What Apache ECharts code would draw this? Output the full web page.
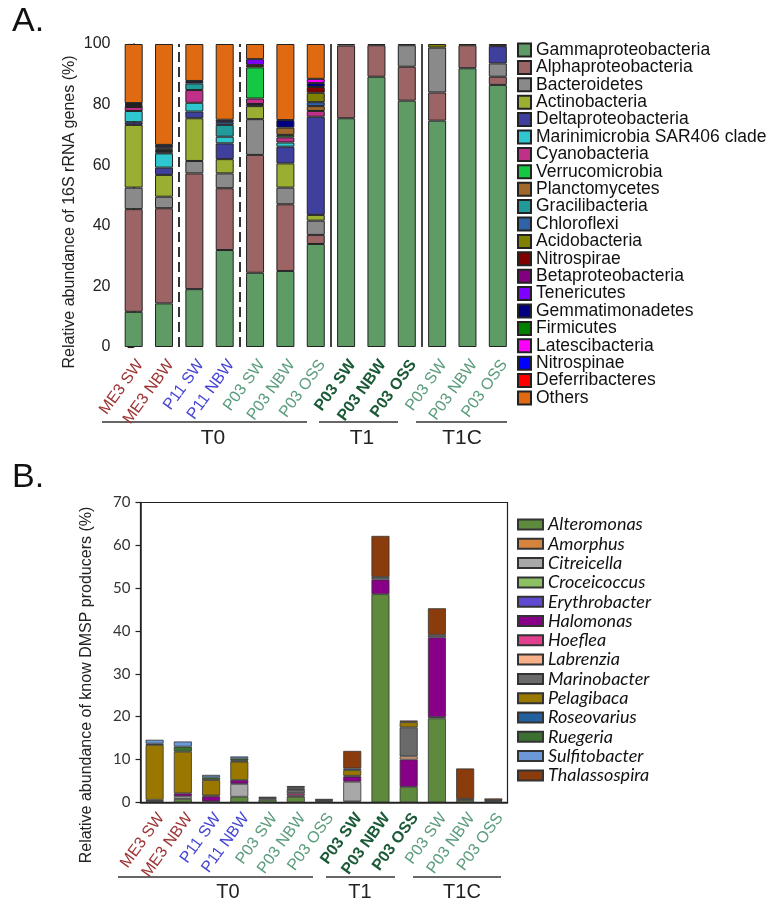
<!DOCTYPE html>
<html><head><meta charset="utf-8">
<script src="https://cdn.jsdelivr.net/npm/echarts@6/dist/echarts.min.js"></script>
<style>html,body{margin:0;padding:0;background:#fff}#c{width:776px;height:911px}</style>
</head><body><div id="c"></div>
<script>
// ---------- categories ----------
const categories = ['ME3 SW','ME3 NBW','P11 SW','P11 NBW','P03 SW','P03 NBW','P03 OSS','P03 SW','P03 NBW','P03 OSS','P03 SW','P03 NBW','P03 OSS'];
const labelGroups = ['me','me','p11','p11','p03','p03','p03','t1','t1','t1','p03','p03','p03'];
const timeGroups = ['T0','T1','T1C'];
const topTicks = [0,20,40,60,80,100];
const bottomTicks = [0,10,20,30,40,50,60,70];

// ---------- A: phyla (% of 16S rRNA genes) ----------
const topTaxa = ['Gammaproteobacteria','Alphaproteobacteria','Bacteroidetes','Actinobacteria','Deltaproteobacteria','Marinimicrobia SAR406 clade','Cyanobacteria','Verrucomicrobia','Planctomycetes','Gracilibacteria','Chloroflexi','Acidobacteria','Nitrospirae','Betaproteobacteria','Tenericutes','Gemmatimonadetes','Firmicutes','Latescibacteria','Nitrospinae','Deferribacteres','Others'];
const gamma      = [11.6,14.4,19.1,32.0,24.5,25.1,34.0,75.5,89.2,81.3,74.7,92.0,86.5];
const alpha      = [33.9,31.4,38.2,20.4,38.9,22.0,3.0,24.0,10.4,11.2,9.3,7.6,2.7];
const bacteroid  = [7.1,3.8,4.1,4.9,11.8,5.5,4.7,0,0,7.1,14.8,0,4.4];
const actino     = [20.7,7.2,14.1,4.7,4.3,8.0,1.9,0,0,0,0,0,0];
const delta      = [0.9,2.4,2.2,5.2,0.7,5.5,32.4,0,0,0,0,0,5.7];
const marini     = [3.7,4.7,2.9,2.2,0,1.4,0,0,0,0,0,0,0];
const cyano      = [1.3,0.3,4.2,0,1.8,1.7,1.9,0,0,0,0,0,0];
const verruco    = [0,0,0,0,10.3,0.8,0,0,0,0,0,0,0];
const plancto    = [0,0,0,0,0,2.4,1.6,0,0,0,0,0,0];
const gracili    = [0.2,0.5,2.2,3.9,0,0,0,0,0,0,0,0,0];
const chloroflexi= [0.2,0.4,0,0.9,0,0,1.3,0,0,0,0,0,0];
const acido      = [0,0,0,0,0,0,3.1,0,0,0,1.2,0,0];
const nitrospirae= [0.3,0.4,0,0,0.8,0,1.9,0,0,0,0,0,0];
const beta       = [0.3,0.4,0,0,0,0,0,0,0,0,0,0,0];
const tener      = [0,0,0,0,1.9,0,0,0,0,0,0,0,0];
const gemma      = [0.3,0.8,0.8,0.8,0,2.5,1.3,0,0,0,0,0,0];
const firmicutes = [0,0,0,0,0,0,0,0,0,0,0,0,0];
const latesci    = [0,0,0,0,0,0,1.4,0,0,0,0,0,0];
const nitrospinae= [0,0,0,0,0,0,0,0,0,0,0,0,0];
const deferri    = [0,0,0,0,0,0,0,0,0,0,0,0,0];
const others     = [19.5,33.3,12.2,25.0,5.0,25.1,11.5,0.5,0.4,0.4,0,0.4,0.7];
const topValues = [gamma,alpha,bacteroid,actino,delta,marini,cyano,verruco,plancto,gracili,chloroflexi,acido,nitrospirae,beta,tener,gemma,firmicutes,latesci,nitrospinae,deferri,others];
const topColors = ['#5f9b65','#9c6464','#8a8a8a','#9aae32','#3f3f9d','#2ec6cf','#c0308a','#14c844','#a0682a','#209a9a','#2f62a8','#7f7f00','#800000','#800080','#8000ff','#000080','#008000','#ff00ff','#0000ff','#ff0000','#df6a12'];

// ---------- B: DMSP producers (%) ----------
const genera = ['Alteromonas','Amorphus','Citreicella','Croceicoccus','Erythrobacter','Halomonas','Hoeflea','Labrenzia','Marinobacter','Pelagibaca','Roseovarius','Ruegeria','Sulfitobacter','Thalassospira'];
const alteromonas  = [0,0.8,0.2,1.3,0.6,1.3,0.2,0,48.6,3.6,19.6,0.5,0.2];
const amorphus     = [0,0,0,0,0,0,0,0.2,0,0,0,0,0];
const citreicella  = [0.3,0.6,0,3.0,0,0,0,4.6,0,0,0.3,0,0];
const croceicoccus = [0,0,0,0,0,0,0,0,0,0,0,0,0];
const erythrobacter= [0,0,0,0,0,0,0,0,0,0,0,0,0];
const halomonas    = [0,0.7,1.2,0.9,0,0.3,0,1.2,3.4,6.4,18.6,0,0];
const hoeflea      = [0,0,0,0,0,0.5,0,0,0,0,0,0,0];
const labrenzia    = [0,0,0,0,0,0,0,0,0,0.7,0,0,0];
const marinobacter = [0.3,0,0.2,0,0.4,0.8,0.3,0.2,0.6,6.8,0.6,0.3,0.3];
const pelagibaca   = [12.8,9.7,3.6,4.3,0,0.3,0,1.3,0,1.2,0,0,0];
const roseovarius  = [0.3,0,0,0.2,0.3,0.3,0,0.4,0,0,0,0,0];
const ruegeria     = [0,1.2,0.6,0.5,0,0,0,0,0,0,0,0,0];
const sulfitobacter= [0.9,1.2,0.6,0.5,0,0,0,0,0,0,0,0,0];
const thalassospira= [0,0,0,0,0,0.3,0.3,4.1,9.6,0.4,6.2,7.1,0.4];
const bottomValues = [alteromonas,amorphus,citreicella,croceicoccus,erythrobacter,halomonas,hoeflea,labrenzia,marinobacter,pelagibaca,roseovarius,ruegeria,sulfitobacter,thalassospira];
const bottomColors = ['#5e8a3e','#d4843c','#a8a8a8','#8cc062','#6048d0','#880088','#e0408c','#f8b088','#6a6a6a','#9a7800','#22609e','#3b7030','#6a98d8','#8a3c0c'];

// ---------- build ----------
const SANS = 'Liberation Sans, Arial, sans-serif';
const rich = {
  me:  {color:'#9c3434', fontSize:16, fontFamily:SANS},
  p11: {color:'#4444d4', fontSize:16, fontFamily:SANS},
  p03: {color:'#5b9c7c', fontSize:16, fontFamily:SANS},
  t1:  {color:'#1b5a36', fontSize:16, fontFamily:SANS, fontWeight:'bold'}
};
const fmt = (v, i) => '{' + labelGroups[i] + '|' + v + '}';
const clean = arr => arr.map(v => v > 0 ? v : '-');

const series = [];
topTaxa.forEach((name, k) => series.push({
  type:'bar', name, stack:'A', xAxisIndex:0, yAxisIndex:0, barWidth:18,
  data: clean(topValues[k]),
  itemStyle:{color:topColors[k], borderColor:'#222', borderWidth:1},
  emphasis:{disabled:true}
}));
genera.forEach((name, k) => series.push({
  type:'bar', name, stack:'B', xAxisIndex:1, yAxisIndex:1, barWidth:18,
  data: clean(bottomValues[k]),
  itemStyle:{color:bottomColors[k], borderColor:'#333', borderWidth:0.8},
  emphasis:{disabled:true}
}));
// group separators in panel A (between categories)
series.push({
  type:'line', xAxisIndex:2, yAxisIndex:0, data:[], silent:true,
  markLine:{
    silent:true, symbol:['none','none'], label:{show:false},
    data:[
      {xAxis:1.5, lineStyle:{type:[10,5], color:'#333', width:2}},
      {xAxis:3.5, lineStyle:{type:[10,5], color:'#333', width:2}},
      {xAxis:6.5, lineStyle:{type:'solid', color:'#444', width:2}},
      {xAxis:9.5, lineStyle:{type:'solid', color:'#444', width:2}}
    ]
  }
});

const groupText = (t, x, y, size) => ({type:'text', x, y, style:{text:t, font: size + 'px ' + SANS, fill:'#222', align:'center', verticalAlign:'middle'}});
const groupLine = (x1, x2, y) => ({type:'line', shape:{x1, y1:y, x2, y2:y}, style:{stroke:'#333', lineWidth:1.5}});

const option = {
  animation:false,
  backgroundColor:'#fff',
  grid:[
    {left:118.5, right:263, top:44, bottom:564},
    {left:140.5, right:268.5, top:502.5, bottom:108.7, show:true, borderColor:'#222', borderWidth:1.2}
  ],
  xAxis:[
    {type:'category', gridIndex:0, data:categories, axisLine:{show:false}, axisTick:{show:false},
     axisLabel:{interval:0, rotate:54, margin:10, verticalAlign:'top', formatter:fmt, rich}},
    {type:'category', gridIndex:1, data:categories, axisLine:{show:true, lineStyle:{color:'#222', width:1.5}}, axisTick:{show:false},
     axisLabel:{interval:0, rotate:54, margin:8, verticalAlign:'top', formatter:fmt, rich}},
    {type:'value', gridIndex:0, min:-0.5, max:12.5, show:false}
  ],
  yAxis:[
    {type:'value', gridIndex:0, min:topTicks[0], max:topTicks[topTicks.length-1], interval:20,
     splitLine:{show:false},
     axisLine:{show:true, lineStyle:{color:'#222', width:1.5}},
     axisTick:{show:true, length:6, lineStyle:{color:'#222', width:1.2}},
     minorTick:{show:true, splitNumber:2, length:6, lineStyle:{color:'#222', width:1.2}},
     axisLabel:{color:'#222', fontSize:16, fontFamily:SANS, margin:8}},
    {type:'value', gridIndex:1, min:bottomTicks[0], max:bottomTicks[bottomTicks.length-1], interval:10,
     splitLine:{show:false},
     axisLine:{show:true, lineStyle:{color:'#222', width:1.5}},
     axisTick:{show:true, length:5, lineStyle:{color:'#222', width:1.2}},
     axisLabel:{color:'#333', fontSize:15, fontFamily:'Lato, sans-serif', margin:10}}
  ],
  legend:[
    {data:topTaxa, orient:'vertical', left:512, top:36, itemWidth:13, itemHeight:13, itemGap:-0.6,
     icon:'rect', selectedMode:false,
     textStyle:{fontSize:17.5, lineHeight:16, fontFamily:SANS, color:'#111'}},
    {data:genera, orient:'vertical', left:512, top:510.5, itemWidth:25, itemHeight:10, itemGap:1.3,
     icon:'rect', selectedMode:false,
     textStyle:{fontSize:18, lineHeight:18, fontFamily:'Lato, sans-serif', fontStyle:'italic', color:'#111'}}
  ],
  graphic:[
    {type:'text', x:12, y:22, style:{text:'A.', font:'34px ' + SANS, fill:'#111', verticalAlign:'middle'}},
    {type:'text', x:12, y:478, style:{text:'B.', font:'34px ' + SANS, fill:'#111', verticalAlign:'middle'}},
    {type:'text', x:70, y:212, rotation:Math.PI/2, style:{text:'Relative abundance of 16S rRNA genes (%)', font:'16px ' + SANS, fill:'#222', align:'center', verticalAlign:'middle'}},
    {type:'text', x:87, y:685, rotation:Math.PI/2, style:{text:'Relative abundance of know DMSP producers (%)', font:'16px ' + SANS, fill:'#222', align:'center', verticalAlign:'middle'}},
    groupLine(102, 307, 422), groupLine(319, 398, 422), groupLine(416, 507, 422),
    groupText(timeGroups[0], 213, 438, 21), groupText(timeGroups[1], 362, 438, 21), groupText(timeGroups[2], 462, 438, 21),
    groupLine(118, 313, 877), groupLine(326, 395, 877), groupLine(413, 501, 877),
    groupText(timeGroups[0], 228, 892, 20), groupText(timeGroups[1], 360, 892, 20), groupText(timeGroups[2], 462, 892, 20)
  ],
  series
};
const chart = echarts.init(document.getElementById('c'), null, {renderer:'canvas'});
chart.setOption(option);
</script></body></html>
